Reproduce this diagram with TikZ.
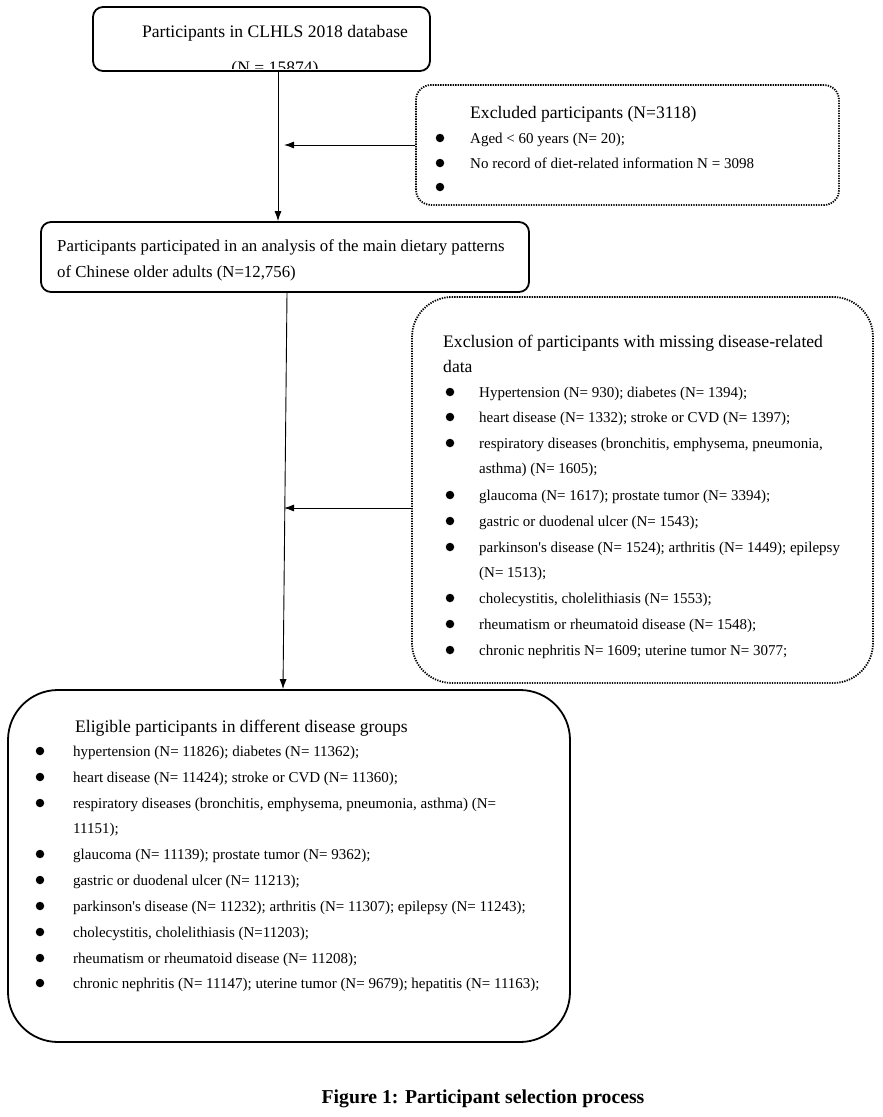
\documentclass[tikz,border=0pt]{standalone}
\usepackage{fontspec}
\setmainfont{Liberation Serif}
\usetikzlibrary{arrows.meta}
\begin{document}
\begin{tikzpicture}[x=1pt,y=-1pt,
  sbox/.style={draw, line width=1.8pt, inner sep=0pt},
  dbox/.style={draw, line width=1.8pt, dash pattern=on 1.3pt off 1.2pt, inner sep=0pt},
  bul/.style={circle, fill=black, inner sep=0pt, minimum size=8.5pt},
  arr/.style={-{Latex[length=10pt,width=7pt]}, line width=0.9pt},
  txt/.style={anchor=base west, inner sep=0pt},
  fA/.style={font=\fontsize{17.6}{20}\selectfont},
  fB/.style={font=\fontsize{16.8}{20}\selectfont},
  fC/.style={font=\fontsize{15}{17}\selectfont},
]
\useasboundingbox (0,0) rectangle (883,1117);
\fill[white] (0,0) rectangle (883,1117);

% top box
\node[sbox, rounded corners=10pt, minimum width=337pt, minimum height=64pt] (top) at (261.5,39) {};
\node[txt, fA, anchor=base] (topt) at (275,37) {Participants in CLHLS 2018 database};
\begin{scope}
\clip (94,8) rectangle (429,68);
\node[txt, fA, anchor=base] (topn) at (275,73.5) {(N = 15874)};
\end{scope}

% excluded box
\node[dbox, rounded corners=15pt, minimum width=423pt, minimum height=120pt] (exc1) at (627.5,145) {};
\node[txt, fA] (exc1t) at (470,118) {Excluded participants (N=3118)};
\node[bul] (exc1b1) at (440,138) {};
\node[txt, fC] (exc1i1) at (470,143) {Aged < 60 years (N= 20);};
\node[bul] (exc1b2) at (440,163) {};
\node[txt, fC] (exc1i2) at (470,168) {No record of diet-related information N = 3098};
\node[bul] (exc1b3) at (440,187) {};

% middle box
\node[sbox, rounded corners=10pt, minimum width=488pt, minimum height=70pt] (mid) at (285,257) {};
\node[txt, fB] (midt1) at (57,251) {Participants participated in an analysis of the main dietary patterns};
\node[txt, fB] (midt2) at (57,277) {of Chinese older adults (N=12,756)};

% exclusion box
\node[dbox, rounded corners=40pt, minimum width=461pt, minimum height=386pt] (exc2) at (642.5,490) {};
\node[txt, fA] (exc2t1) at (443,347) {Exclusion of participants with missing disease-related};
\node[txt, fA] (exc2t2) at (443,372) {data};
\foreach \i/\y in {1/397, 2/422, 3/448, 5/500, 6/526, 7/552, 9/603, 10/629, 11/655} {
  \node[bul] (exc2b\i) at (450,\y-5) {};
}
\node[txt, fC] (exc2i1) at (479,397) {Hypertension (N= 930); diabetes (N= 1394);};
\node[txt, fC] (exc2i2) at (479,422) {heart disease (N= 1332); stroke or CVD (N= 1397);};
\node[txt, fC] (exc2i3) at (479,448) {respiratory diseases (bronchitis, emphysema, pneumonia,};
\node[txt, fC] (exc2i4) at (479,473) {asthma) (N= 1605);};
\node[txt, fC] (exc2i5) at (479,500) {glaucoma (N= 1617); prostate tumor (N= 3394);};
\node[txt, fC] (exc2i6) at (479,526) {gastric or duodenal ulcer (N= 1543);};
\node[txt, fC] (exc2i7) at (479,552) {parkinson\textquotesingle s disease (N= 1524); arthritis (N= 1449); epilepsy};
\node[txt, fC] (exc2i8) at (479,577) {(N= 1513);};
\node[txt, fC] (exc2i9) at (479,603) {cholecystitis, cholelithiasis (N= 1553);};
\node[txt, fC] (exc2i10) at (479,629) {rheumatism or rheumatoid disease (N= 1548);};
\node[txt, fC] (exc2i11) at (479,655) {chronic nephritis N= 1609; uterine tumor N= 3077;};

% eligible box
\node[sbox, rounded corners=50pt, minimum width=562pt, minimum height=352pt] (elig) at (289,866) {};
\node[txt, fA] (eligt) at (75,732) {Eligible participants in different disease groups};
\foreach \i/\y in {1/756, 2/782, 3/808, 5/859, 6/885, 7/911, 8/937, 9/963, 10/988} {
  \node[bul] (eligb\i) at (40,\y-5) {};
}
\node[txt, fC] (eligi1) at (73,756) {hypertension (N= 11826); diabetes (N= 11362);};
\node[txt, fC] (eligi2) at (73,782) {heart disease (N= 11424); stroke or CVD (N= 11360);};
\node[txt, fC] (eligi3) at (73,808) {respiratory diseases (bronchitis, emphysema, pneumonia, asthma) (N=};
\node[txt, fC] (eligi4) at (73,833) {11151);};
\node[txt, fC] (eligi5) at (73,859) {glaucoma (N= 11139); prostate tumor (N= 9362);};
\node[txt, fC] (eligi6) at (73,885) {gastric or duodenal ulcer (N= 11213);};
\node[txt, fC] (eligi7) at (73,911) {parkinson\textquotesingle s disease (N= 11232); arthritis (N= 11307); epilepsy (N= 11243);};
\node[txt, fC] (eligi8) at (73,937) {cholecystitis, cholelithiasis (N=11203);};
\node[txt, fC] (eligi9) at (73,963) {rheumatism or rheumatoid disease (N= 11208);};
\node[txt, fC] (eligi10) at (73,988) {chronic nephritis (N= 11147); uterine tumor (N= 9679); hepatitis (N= 11163);};

% caption
\node[txt, anchor=base, font=\fontsize{19.7}{23}\selectfont\bfseries] (cap) at (483,1103) {Figure 1: Participant selection process};

% connectors
\coordinate (v1) at (278,0);
\draw[arr] (top.south -| v1) -- (mid.north -| v1);
\coordinate (h1) at (284,145);
\draw[arr] (exc1.west |- h1) -- (h1);
\coordinate (v2a) at (287,0);
\coordinate (v2b) at (283,0);
\draw[arr] (mid.south -| v2a) -- (elig.north -| v2b);
\coordinate (h2) at (284,508);
\draw[arr] (exc2.west |- h2) -- (h2);
\end{tikzpicture}
\end{document}
